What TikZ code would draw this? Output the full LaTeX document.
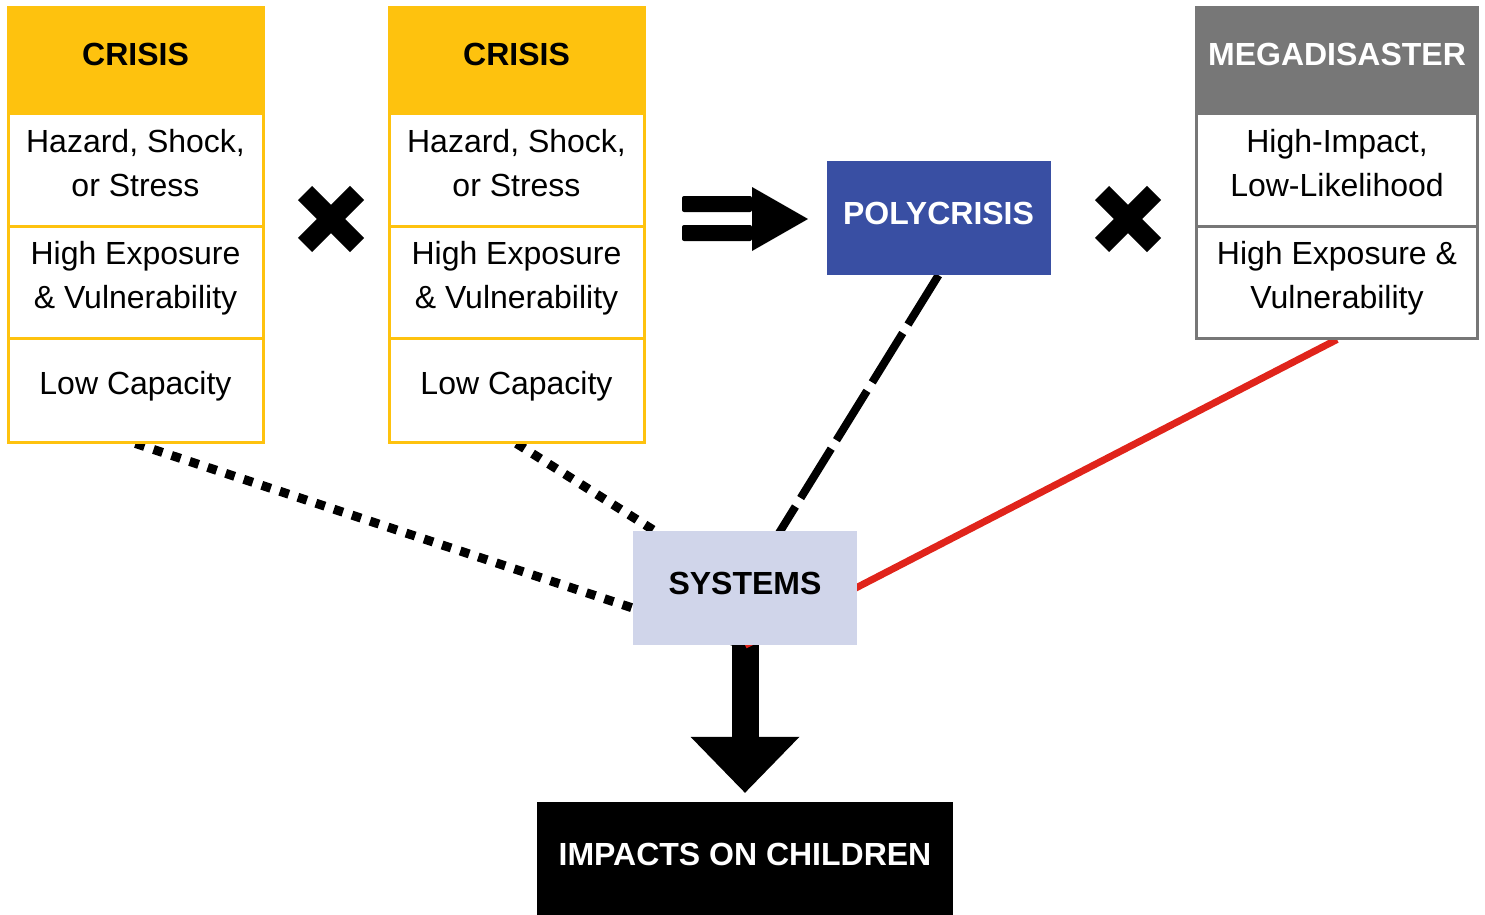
\documentclass[tikz,border=0pt]{standalone}
\usepackage{fontspec}
\setmainfont{Liberation Sans}
\usetikzlibrary{backgrounds,arrows.meta}
\definecolor{cyellow}{RGB}{254,194,14}
\definecolor{mgray}{RGB}{119,119,119}
\definecolor{polyblue}{RGB}{57,79,163}
\definecolor{syslav}{RGB}{208,213,234}
\definecolor{lred}{RGB}{224,36,27}
\begin{document}
\begin{tikzpicture}[x=1pt,y=-1pt,
  bodyfont/.style={font=\fontsize{32}{44}\selectfont},
  headfont/.style={font=\fontsize{32}{44}\selectfont\bfseries},
  cell/.style={rectangle,draw=#1,line width=3pt,fill=white,inner sep=0pt,
    minimum width=255pt,minimum height=112pt,align=center,text depth=13.3pt,bodyfont},
  chead/.style={rectangle,draw=#1,line width=3pt,fill=#1,inner sep=0pt,
    minimum width=255pt,minimum height=106pt,align=center,text depth=12.9pt,headfont},
  solidbox/.style={rectangle,fill=#1,inner sep=0pt,align=center,text depth=8.5pt,headfont},
  dotline/.style={line width=9pt,dash pattern=on 9.5pt off 9.5pt},
  dashline/.style={line width=8pt,dash pattern=on 58pt off 10pt},
  redline/.style={line width=7pt,draw=lred},
  xmark/.style={line width=20pt}
]
\useasboundingbox (0,0) rectangle (1485,915);

% Crisis 1
\node[chead=cyellow] (c1h) at (135.5,61) {CRISIS};
\node[cell=cyellow] (c1a) at (135.5,170) {Hazard, Shock,\\or Stress};
\node[cell=cyellow] (c1b) at (135.5,282) {High Exposure\\\& Vulnerability};
\node[cell=cyellow,minimum height=104pt] (c1c) at (135.5,390) {Low Capacity};

% Crisis 2
\node[chead=cyellow] (c2h) at (516.5,61) {CRISIS};
\node[cell=cyellow] (c2a) at (516.5,170) {Hazard, Shock,\\or Stress};
\node[cell=cyellow] (c2b) at (516.5,282) {High Exposure\\\& Vulnerability};
\node[cell=cyellow,minimum height=104pt] (c2c) at (516.5,390) {Low Capacity};

% Megadisaster
\node[chead=mgray,minimum width=281pt,text=white] (mh) at (1337,61) {MEGADISASTER};
\node[cell=mgray,minimum width=281pt] (ma) at (1337,170) {High-Impact,\\Low-Likelihood};
\node[cell=mgray,minimum width=281pt] (mb) at (1337,282) {High Exposure \&\\Vulnerability};

% Polycrisis, systems, impacts
\node[solidbox=polyblue,text=white,minimum width=224pt,minimum height=114pt] (poly) at (938.5,218) {POLYCRISIS};
\node[solidbox=syslav,minimum width=224pt,minimum height=114pt] (sys) at (745,588) {SYSTEMS};
\node[solidbox=black,text=white,minimum width=416pt,minimum height=113pt] (imp) at (745,858.5) {IMPACTS ON CHILDREN};

% Multiplication marks
\draw[xmark] (305,193) -- (357,245);
\draw[xmark] (357,193) -- (305,245);
\draw[xmark] (1102,193) -- (1154,245);
\draw[xmark] (1154,193) -- (1102,245);

% Double arrow
\fill[rounded corners=2pt] (682,196) rectangle (752,212);
\fill[rounded corners=2pt] (682,225) rectangle (752,241);
\fill (752,187) -- (808,219) -- (752,251) -- cycle;

% Connectors behind boxes
\begin{scope}[on background layer]
  \draw[line width=27pt,-{Triangle[width=109pt,length=56pt,line width=0pt]}] (sys.south) -- ([yshift=9pt]imp.north);
  \draw[dotline] (c1c.south) -- (sys.south);
  \draw[dotline] (c2c.south) -- (sys.center);
  \draw[dashline] (poly.south) -- (sys.center);
  \draw[redline] (mb.south) -- (sys.south);
\end{scope}
\end{tikzpicture}
\end{document}
